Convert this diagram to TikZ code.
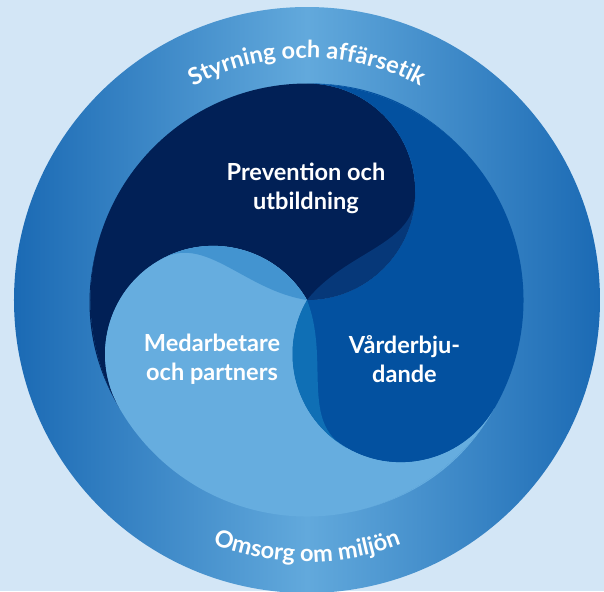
\documentclass[tikz,border=0pt]{standalone}
\usepackage{fontspec}
\setmainfont{Lato}
\usepackage{xcolor}
\definecolor{bgblue}{RGB}{211,230,246}
\definecolor{ringedge}{RGB}{27,106,180}
\definecolor{ringmid}{RGB}{98,169,220}
\definecolor{navy}{RGB}{1,32,86}
\definecolor{royal}{RGB}{3,81,160}
\definecolor{lightlobe}{RGB}{102,173,223}
\definecolor{ovnavy}{RGB}{6,56,121}
\definecolor{ovlight}{RGB}{67,148,208}
\definecolor{ovroyal}{RGB}{15,111,181}
\usepackage{tikz}
\usetikzlibrary{decorations.text}

\newcommand{\ringfont}{\fontsize{13.4}{13.4}\selectfont\bfseries\color{white}}
\tikzset{
  lobetext/.style={text=white, align=center, font=\fontsize{13.4}{16.6}\selectfont\bfseries},
  ringtext/.style={decorate, decoration={text along path, text align=center, text={|\ringfont|#1}}}
}

\begin{document}
\begin{tikzpicture}
                % Background and frame of the page
                \fill[bgblue] (-6.14,-5.82) rectangle (5.94,6.0);
                \useasboundingbox (-6.14,-5.82) rectangle (5.94,6.0);
                % Outer ring with a shading from the edges to the middle
                \shade[left color=ringedge, right color=ringedge, middle color=ringmid] (0,0) circle (5.86);
                % The three lobes of the inner disk
                \fill[navy] (0,0) arc[start angle=-90, end angle=90, radius=2.165]
                    arc[start angle=90, end angle=210, radius=4.33]
                    arc[start angle=210, end angle=30, radius=2.165] -- cycle;
                \fill[royal] (0,0) arc[start angle=150, end angle=330, radius=2.165]
                    arc[start angle=-30, end angle=90, radius=4.33]
                    arc[start angle=90, end angle=-90, radius=2.165] -- cycle;
                \fill[lightlobe] (0,0) arc[start angle=30, end angle=210, radius=2.165]
                    arc[start angle=210, end angle=330, radius=4.33]
                    arc[start angle=330, end angle=150, radius=2.165] -- cycle;
                % Where one lobe reaches into the next one
                \foreach \rot/\col in {0/ovnavy, 120/ovlight, 240/ovroyal}
                    \fill[\col, rotate=\rot] (0,0) .. controls (0.8,1.0) and (2.2,1.1) .. (2.165,2.165)
                        arc[start angle=0, end angle=-90, radius=2.165] -- cycle;
                % Thin edges that stick out over the ring
                \foreach \rot/\col in {0/royal, 120/navy, 240/lightlobe}
                    \fill[\col, rotate=\rot] (88:4.33) .. controls (75:4.47) and (60:4.56) .. (42:4.33)
                        arc[start angle=42, end angle=88, radius=4.33] -- cycle;
                % Labels of the lobes
                \node[lobetext] (prevention) at (-0.02,2.24) {Prevention och\\utbildning};
                \node[lobetext] (medarbetare) at (-1.9,-1.18) {Medarbetare\\och partners};
                \node[lobetext] (varde) at (1.95,-1.18) {Vårderbju-\\dande};
                % Labels along the ring
                \path[ringtext={Styrning och affärsetik}] (150:4.84) arc[start angle=150, end angle=30, radius=4.84];
                \path[ringtext={Omsorg om miljön}] (230:5.24) arc[start angle=230, end angle=310, radius=5.24];
\end{tikzpicture}
\end{document}
